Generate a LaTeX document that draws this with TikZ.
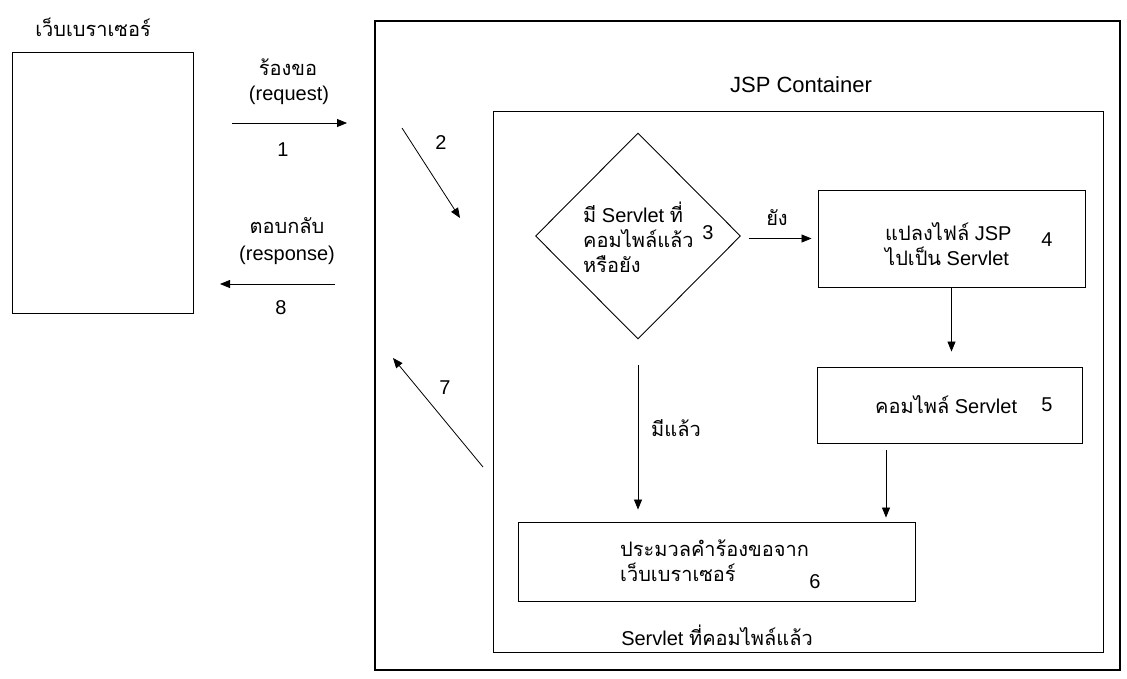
\documentclass[tikz,border=0pt]{standalone}
\usepackage{fontspec}
\setmainfont{Liberation Sans}
\newfontfamily\thai[Script=Thai]{Loma}
\usetikzlibrary{arrows.meta,shapes.geometric}

\begin{document}
\begin{tikzpicture}[x=1pt,y=-1pt,
  box/.style={draw,line width=0.9pt,inner sep=0pt,rectangle},
  arr/.style={-{Triangle[length=10pt,width=8pt]},line width=0.8pt},
  lbl/.style={inner sep=0pt,font=\fontsize{20}{25}\selectfont},
  blk/.style={lbl,align=left,anchor=west}]
\useasboundingbox (0,0) rectangle (1127,678);

% browser
\node[box,minimum width=181pt,minimum height=261pt] (browser) at (102.5,182.5) {};
\node[lbl] (btitle) at (93,27) {\thai เว็บเบราเซอร์};

% JSP container and the compiled-servlet area
\node[box,line width=1.1pt,minimum width=745pt,minimum height=649pt] (cont) at (747.5,345.5) {};
\node[lbl,font=\fontsize{22}{26}\selectfont] (conttitle) at (801,85) {JSP Container};
\node[box,minimum width=610pt,minimum height=541pt] (inner) at (798,381.5) {};
\node[lbl] (innertitle) at (717,635) {Servlet {\thai ที่คอมไพล์แล้ว}};

% decision and steps
\node[draw,diamond,line width=0.9pt,inner sep=0pt,minimum width=205pt,minimum height=206pt] (dia) at (638,236) {};
\node[blk] (diatext) at (583,237) {{\thai มี} Servlet {\thai ที่}\\{\thai คอมไพล์แล้ว}\\{\thai หรือยัง}};
\node[lbl] (n3) at (708,233) {3};

\node[box,minimum width=267pt,minimum height=97pt] (box4) at (951.5,238.5) {};
\node[blk] (box4text) at (885,244.5) {{\thai แปลงไฟล์} JSP\\{\thai ไปเป็น} Servlet};
\node[lbl] (n4) at (1047,240) {4};

\node[box,minimum width=265pt,minimum height=76pt] (box5) at (949.5,405) {};
\node[blk] (box5text) at (875,405) {{\thai คอมไพล์} Servlet};
\node[lbl] (n5) at (1047,405) {5};

\node[box,minimum width=397pt,minimum height=79pt] (box6) at (716.5,561.5) {};
\node[blk] (box6text) at (620,561) {{\thai ประมวลคำร้องขอจาก}\\{\thai เว็บเบราเซอร์}};
\node[lbl] (n6) at (815,582) {6};

% request / response between browser and container
\coordinate (r1a) at (232,123);
\coordinate (r1b) at (347,123);
\draw[arr] (r1a) -- (r1b);
\node[lbl] (reqth) at (288,67) {\thai ร้องขอ};
\node[lbl] (reqen) at (289,95) {(request)};
\node[lbl] (n1) at (283,150) {1};

\coordinate (r8a) at (335,284);
\coordinate (r8b) at (220,284);
\draw[arr] (r8a) -- (r8b);
\node[lbl] (respth) at (287,226) {\thai ตอบกลับ};
\node[lbl] (respen) at (287,255) {(response)};
\node[lbl] (n8) at (281,308) {8};

% into and out of the servlet area
\coordinate (a2a) at (402,128);
\coordinate (a2b) at (460,218);
\draw[arr] (a2a) -- (a2b);
\node[lbl] (n2) at (441,143) {2};

\coordinate (a7a) at (483,467);
\coordinate (a7b) at (393,358);
\draw[arr] (a7a) -- (a7b);
\node[lbl] (n7) at (445,388) {7};

% flow inside
\draw[arr,shorten <=8pt,shorten >=6pt] (dia.east |- box4.west) -- (box4.west);
\node[lbl] (no) at (777,218) {\thai ยัง};

\draw[arr,shorten >=15pt] (box4.south) -- (box4.south |- box5.north);

\coordinate (c56) at (886,0);
\draw[arr,shorten <=7pt,shorten >=4pt] (box5.south -| c56) -- (box6.north -| c56);

\draw[arr,shorten <=26pt,shorten >=12pt] (dia.south) -- (dia.south |- box6.north);
\node[lbl] (yes) at (676,428) {\thai มีแล้ว};
\end{tikzpicture}
\end{document}
